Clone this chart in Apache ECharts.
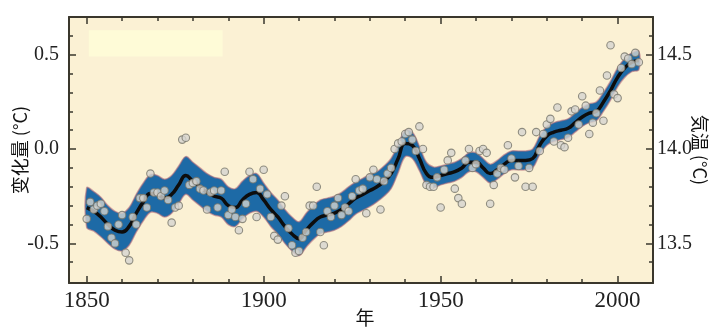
<!DOCTYPE html>
<html>
<head>
<meta charset="utf-8">
<script src="https://cdn.jsdelivr.net/npm/echarts@6/dist/echarts.min.js"></script>
<style>
  html, body { margin: 0; padding: 0; background: #fff; }
  #chart { width: 715px; height: 329px; }
</style>
</head>
<body>
<div id="chart"></div>
<script>
// annual global temperature anomaly (°C), 1850..2006
var startYear = 1850;
var anomalies = [
  -0.37, -0.28, -0.32, -0.30, -0.29, -0.33, -0.41, -0.47, -0.50, -0.40,
  -0.35, -0.55, -0.59, -0.36, -0.40, -0.26, -0.26, -0.31, -0.13, -0.23,
  -0.23, -0.25, -0.22, -0.27, -0.39, -0.31, -0.30, 0.05, 0.06, -0.19,
  -0.18, -0.17, -0.21, -0.22, -0.32, -0.23, -0.22, -0.31, -0.22, -0.12,
  -0.35, -0.32, -0.36, -0.43, -0.37, -0.29, -0.12, -0.16, -0.36, -0.21,
  -0.11, -0.24, -0.36, -0.46, -0.48, -0.30, -0.25, -0.42, -0.51, -0.55,
  -0.54, -0.47, -0.44, -0.30, -0.30, -0.20, -0.44, -0.51, -0.33, -0.36,
  -0.30, -0.26, -0.35, -0.31, -0.33, -0.25, -0.16, -0.22, -0.21, -0.34,
  -0.15, -0.11, -0.16, -0.32, -0.17, -0.13, -0.10, 0.00, 0.03, 0.04,
  0.08, 0.09, 0.05, -0.01, 0.12, 0.00, -0.19, -0.20, -0.20, -0.15,
  -0.31, -0.11, -0.06, -0.02, -0.21, -0.26, -0.29, -0.06, 0.00, -0.10,
  -0.08, -0.01, 0.00, -0.02, -0.29, -0.19, -0.13, -0.10, -0.11, 0.02,
  -0.05, -0.15, -0.09, 0.09, -0.20, -0.10, -0.20, 0.09, -0.01, 0.08,
  0.13, 0.16, 0.04, 0.22, 0.02, 0.01, 0.06, 0.20, 0.21, 0.13,
  0.28, 0.23, 0.08, 0.14, 0.19, 0.31, 0.15, 0.39, 0.55, 0.29,
  0.27, 0.43, 0.49, 0.48, 0.45, 0.51, 0.46
];

// smoothed (decadal) curve and its uncertainty half-width
var smoothYears = [
  1850, 1852, 1854, 1856, 1858, 1860, 1862, 1864, 1866, 1868,
  1870, 1872, 1874, 1876, 1878, 1880, 1882, 1884, 1886, 1888,
  1890, 1892, 1894, 1896, 1898, 1900, 1902, 1904, 1906, 1908,
  1910, 1912, 1914, 1916, 1918, 1920, 1922, 1924, 1926, 1928,
  1930, 1932, 1934, 1936, 1938, 1940, 1942, 1944, 1946, 1948,
  1950, 1952, 1954, 1956, 1958, 1960, 1962, 1964, 1966, 1968,
  1970, 1972, 1974, 1976, 1978, 1980, 1982, 1984, 1986, 1988,
  1990, 1992, 1994, 1996, 1998, 2000, 2002, 2004, 2006
];
var smoothVals = [
  -0.31, -0.33, -0.36, -0.40, -0.43, -0.44, -0.41, -0.34, -0.28, -0.235,
  -0.24, -0.26, -0.24, -0.19, -0.14, -0.17, -0.20, -0.23, -0.25, -0.26,
  -0.30, -0.31, -0.27, -0.24, -0.23, -0.27, -0.32, -0.36, -0.41, -0.45,
  -0.475, -0.43, -0.39, -0.36, -0.35, -0.34, -0.32, -0.29, -0.26, -0.24,
  -0.22, -0.20, -0.17, -0.13, -0.05, 0.03, 0.02, -0.05, -0.13, -0.15,
  -0.14, -0.13, -0.12, -0.10, -0.07, -0.07, -0.10, -0.13, -0.11, -0.08,
  -0.06, -0.06, -0.06, -0.05, 0.02, 0.07, 0.09, 0.10, 0.11, 0.14,
  0.17, 0.19, 0.20, 0.25, 0.31, 0.38, 0.43, 0.46, 0.47
];
var bandHalf = [
  0.105, 0.105, 0.105, 0.10, 0.10, 0.10, 0.10, 0.10, 0.10, 0.10,
  0.10, 0.10, 0.10, 0.10, 0.10, 0.10, 0.10, 0.10, 0.10, 0.10,
  0.10, 0.10, 0.10, 0.10, 0.10, 0.09, 0.09, 0.09, 0.09, 0.09,
  0.09, 0.09, 0.09, 0.09, 0.09, 0.09, 0.09, 0.09, 0.085, 0.085,
  0.085, 0.08, 0.08, 0.08, 0.075, 0.07, 0.07, 0.065, 0.06, 0.055,
  0.05, 0.05, 0.05, 0.05, 0.05, 0.05, 0.05, 0.05, 0.05, 0.05,
  0.05, 0.05, 0.05, 0.05, 0.05, 0.05, 0.05, 0.05, 0.05, 0.05,
  0.05, 0.05, 0.05, 0.05, 0.05, 0.05, 0.05, 0.05, 0.05
];

var decadeTicks = [1850, 1860, 1870, 1880, 1890, 1900, 1910, 1920, 1930, 1940, 1950, 1960, 1970, 1980, 1990, 2000];
var yearLabels = [1850, 1900, 1950, 2000];
var yTicks = [-0.6, -0.5, -0.4, -0.3, -0.2, -0.1, 0, 0.1, 0.2, 0.3, 0.4, 0.5, 0.6];
var yLabels = [-0.5, 0, 0.5];
var absOffset = 14.0; // right axis: absolute temperature
var blankBox = [[1850.6, 0.63], [1888.4, 0.49]];

var frameColor = "#3a372c";
var serif = "'Liberation Serif', 'DejaVu Serif', serif";

var points = anomalies.map(function (v, i) { return [startYear + i, v]; });
var curve = smoothYears.map(function (y, i) { return [y, smoothVals[i]]; });

function xAx(pos, ticks, len, showLine, labels) {
  return {
    type: "value", position: pos, min: 1845, max: 2010,
    splitLine: { show: false },
    axisLine: { show: showLine, onZero: false, lineStyle: { color: frameColor, width: 2 } },
    axisTick: { show: true, inside: true, length: len, customValues: ticks,
      lineStyle: { color: frameColor, width: 1.5 } },
    axisLabel: labels ? {
      customValues: labels, formatter: function (v) { return String(v); },
      margin: 6, color: "#222", fontSize: 23, fontFamily: serif
    } : { show: false }
  };
}

function yAx(pos, ticks, len, showLine, fmt) {
  return {
    type: "value", position: pos, min: -0.71, max: 0.70,
    splitLine: { show: false },
    axisLine: { show: showLine, onZero: false, lineStyle: { color: frameColor, width: 2 } },
    axisTick: { show: true, inside: true, length: len, customValues: ticks,
      lineStyle: { color: frameColor, width: 1.5 } },
    axisLabel: fmt ? {
      customValues: yLabels, formatter: fmt, margin: pos === "left" ? 10 : 4,
      color: "#222", fontSize: 20, fontFamily: serif
    } : { show: false }
  };
}

var xMain = xAx("bottom", decadeTicks, 4, true, yearLabels);
xMain.name = "年";
xMain.nameLocation = "middle";
xMain.nameGap = 25;
xMain.nameMoveOverlap = false;
xMain.nameTextStyle = { fontFamily: "'Noto Sans CJK SC'", fontSize: 19, color: "#111", padding: [0, 0, 0, 8] };

var yLeft = yAx("left", yTicks, 4, true, function (v) { return (+v).toFixed(1); });
yLeft.name = "变化量 (°C)";
yLeft.nameLocation = "middle";
yLeft.nameRotate = 90;
yLeft.nameGap = 40;
yLeft.nameMoveOverlap = false;
yLeft.nameTextStyle = { fontFamily: "'Noto Sans CJK SC'", fontSize: 18, color: "#111" };

var yRight = yAx("right", yTicks, 4, true, function (v) { return (+v + absOffset).toFixed(1); });
yRight.name = "気温 (°C)";
yRight.nameLocation = "middle";
yRight.nameRotate = -90;
yRight.nameGap = 38;
yRight.nameMoveOverlap = false;
yRight.nameTextStyle = { fontFamily: "'Noto Sans CJK JP'", fontSize: 18, color: "#111" };

var option = {
  animation: false,
  backgroundColor: "#ffffff",
  grid: { left: 69, right: 62, top: 17, bottom: 46, show: true,
    containLabel: false, outerBoundsMode: "none",
    backgroundColor: "#fbf1d4", borderWidth: 0 },
  xAxis: [
    xMain,
    xAx("top", decadeTicks, 4, true, null),
    xAx("bottom", yearLabels, 7, false, null),
    xAx("top", yearLabels, 7, false, null)
  ],
  yAxis: [
    yLeft,
    yRight,
    yAx("left", yLabels, 7, false, null),
    yAx("right", yLabels, 7, false, null)
  ],
  series: [
    {
      type: "custom",
      name: "band",
      z: 2,
      data: [0],
      renderItem: function (params, api) {
        var upper = [], lower = [];
        for (var i = 0; i < smoothYears.length; i++) {
          upper.push(api.coord([smoothYears[i], smoothVals[i] + bandHalf[i]]));
          lower.unshift(api.coord([smoothYears[i], smoothVals[i] - bandHalf[i]]));
        }
        return {
          type: "polygon",
          shape: { points: upper.concat(lower), smooth: 0.35 },
          style: { fill: "#1d6aa6", stroke: "rgba(180,110,125,0.6)", lineWidth: 1.5 }
        };
      },
      markArea: {
        silent: true,
        itemStyle: { color: "#fefbd7" },
        data: [[{ coord: blankBox[0] }, { coord: blankBox[1] }]]
      }
    },
    {
      type: "line",
      name: "smooth",
      z: 3,
      data: curve,
      smooth: 0.5,
      showSymbol: false,
      lineStyle: { color: "#0d0d0d", width: 3.5 }
    },
    {
      type: "scatter",
      name: "annual",
      z: 4,
      data: points,
      symbolSize: 7.5,
      itemStyle: { color: "#d6d5cf", borderColor: "#77766a", borderWidth: 1.1 }
    }
  ]
};

var chart = echarts.init(document.getElementById("chart"));
chart.setOption(option);
</script>
</body>
</html>
